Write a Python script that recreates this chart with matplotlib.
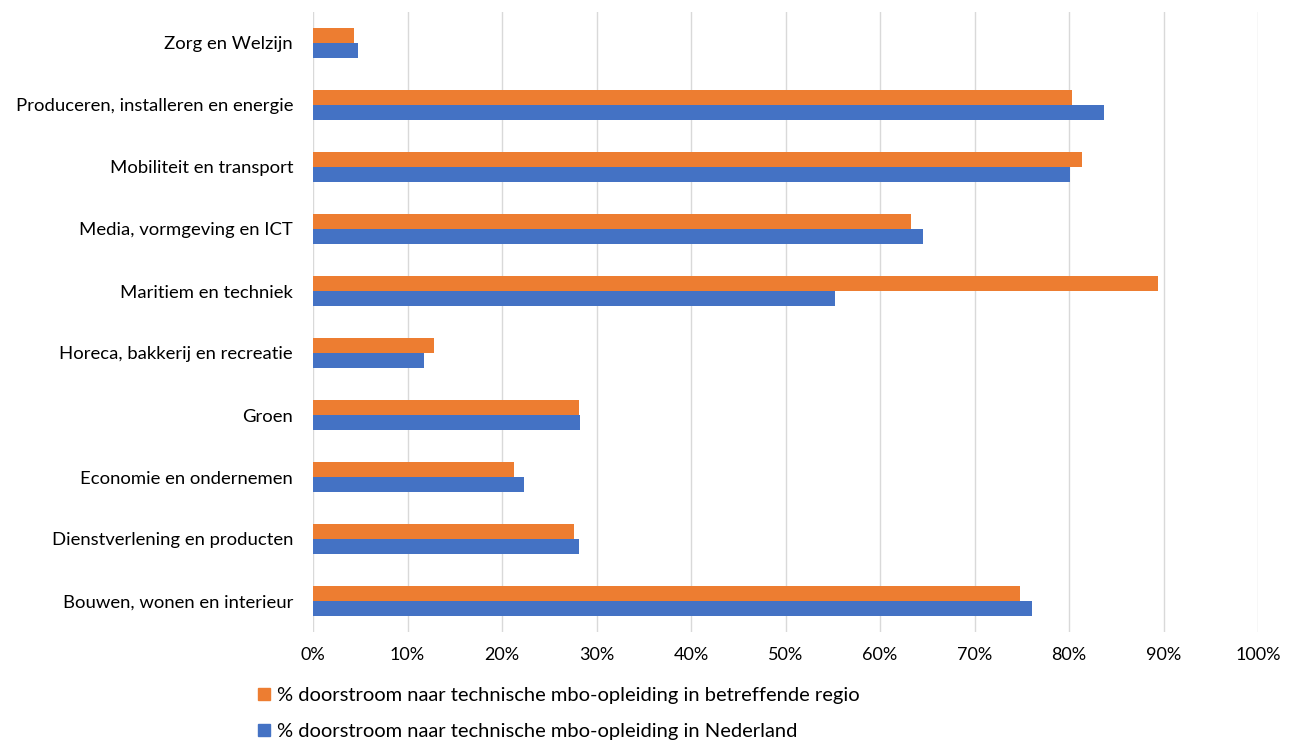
import matplotlib
matplotlib.use("Agg")
import matplotlib.pyplot as plt
from matplotlib.patches import Patch
from matplotlib.ticker import FuncFormatter, MultipleLocator
import numpy as np

plt.rcParams['font.family'] = ['Lato', 'DejaVu Sans']

categories = [
    "Zorg en Welzijn",
    "Produceren, installeren en energie",
    "Mobiliteit en transport",
    "Media, vormgeving en ICT",
    "Maritiem en techniek",
    "Horeca, bakkerij en recreatie",
    "Groen",
    "Economie en ondernemen",
    "Dienstverlening en producten",
    "Bouwen, wonen en interieur",
]
regio = [4.3, 80.3, 81.4, 63.3, 89.4, 12.8, 28.1, 21.3, 27.6, 74.8]
nederland = [4.8, 83.7, 80.1, 64.6, 55.2, 11.7, 28.3, 22.3, 28.2, 76.1]
label_regio = "% doorstroom naar technische mbo-opleiding in betreffende regio"
label_nl = "% doorstroom naar technische mbo-opleiding in Nederland"

c_orange = "#ED7D31"
c_blue = "#4472C4"

fig = plt.figure(figsize=(12.92, 7.42), dpi=100)
ax = fig.add_axes([313/1292, 1 - 632/742, (1258-313)/1292, (632-12)/742])

y = np.arange(len(categories))
h = 0.245
ax.barh(y - h/2, regio, height=h, color=c_orange, zorder=3)
ax.barh(y + h/2, nederland, height=h, color=c_blue, zorder=3)

ax.set_ylim(len(categories) - 0.5, -0.5)
ax.set_xlim(0, 100)
ax.set_yticks(y)
ax.set_yticklabels(categories, fontsize=13.3)
ax.xaxis.set_major_locator(MultipleLocator(10))
ax.xaxis.set_major_formatter(FuncFormatter(lambda v, p: f"{int(round(v))}%"))
ax.tick_params(axis='x', labelsize=13, length=0, pad=11)
ax.tick_params(axis='y', length=0, pad=14.4)
ax.grid(axis='x', color="#D9D9D9", linewidth=1, zorder=0)
for s in ax.spines.values():
    s.set_visible(False)

handles = [Patch(color=c_orange, label=label_regio), Patch(color=c_blue, label=label_nl)]
fig.legend(handles=handles, loc='upper left', bbox_to_anchor=(258/1292, 1 - 687/742),
           frameon=False, fontsize=14.5, handlelength=0.6, handleheight=0.6,
           handletextpad=0.35, labelspacing=0.95, borderpad=0, borderaxespad=0)

fig.savefig("out.png", dpi=100)
